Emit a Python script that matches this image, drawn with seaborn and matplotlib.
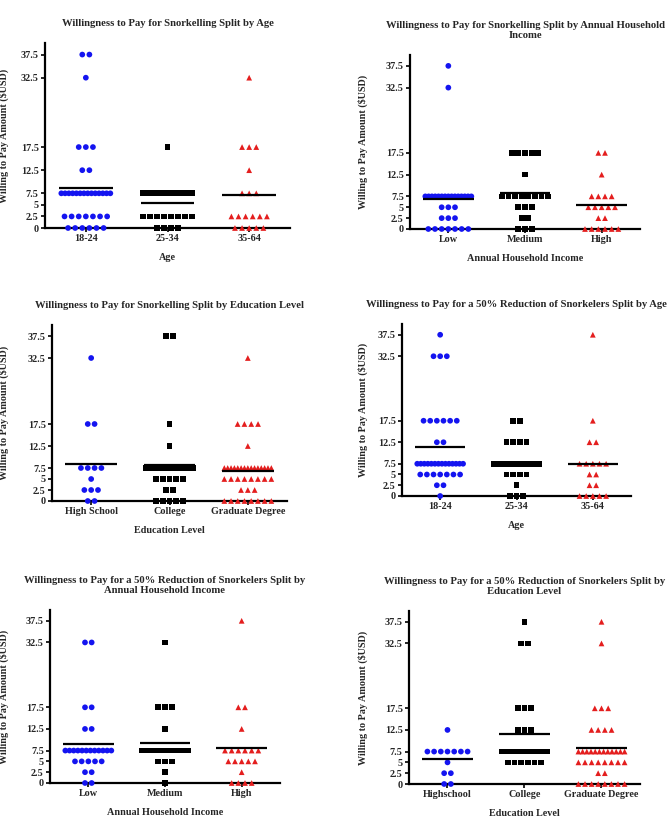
import numpy as np
import pandas as pd
import matplotlib
matplotlib.use("Agg")
import matplotlib.pyplot as plt
import seaborn as sns

# =========================
# Data
# =========================
# amount levels used in the survey, also the y tick values
LEVELS = [0, 2.5, 5, 7.5, 12.5, 17.5, 32.5, 37.5]
Y_TICK_LABELS = ["0", "2.5", "5", "7.5", "12.5", "17.5", "32.5", "37.5"]

AGE_GROUPS = ["18-24", "25-34", "35-64"]
INCOME_GROUPS = ["Low", "Medium", "High"]
EDU_GROUPS = ["High School", "College", "Graduate Degree"]
EDU_GROUPS_B = ["Highschool", "College", "Graduate Degree"]

# respondents at each level of LEVELS, one list per group
snork_age = [[6, 7, 0, 14, 2, 3, 1, 2],
             [4, 8, 0, 17, 0, 1, 0, 0],
             [5, 6, 0, 3, 1, 3, 1, 0]]
snork_income = [[7, 3, 3, 15, 0, 0, 1, 1],
                [3, 2, 3, 8, 1, 5, 0, 0],
                [6, 2, 5, 4, 1, 2, 0, 0]]
snork_edu = [[2, 3, 1, 4, 0, 2, 1, 0],
             [5, 2, 5, 10, 1, 1, 0, 2],
             [8, 3, 8, 15, 1, 4, 1, 0]]
reduc_age = [[1, 2, 7, 14, 2, 6, 3, 1],
             [3, 1, 4, 20, 4, 2, 0, 0],
             [5, 2, 2, 5, 2, 1, 0, 1]]
reduc_income = [[2, 2, 5, 12, 2, 2, 2, 0],
                [1, 1, 3, 12, 1, 3, 1, 0],
                [4, 1, 5, 6, 1, 2, 0, 1]]
reduc_edu = [[2, 2, 1, 7, 1, 0, 0, 0],
             [0, 0, 6, 12, 3, 3, 2, 1],
             [8, 2, 8, 12, 4, 3, 1, 1]]

# group means shown as horizontal bars
snork_age_mean = [8.74, 5.49, 7.15]
snork_income_mean = [6.98, 8.28, 5.44]
snork_edu_mean = [8.47, 8.09, 6.88]
reduc_age_mean = [11.34, 7.6, 7.45]
reduc_income_mean = [9.08, 9.31, 8.16]
reduc_edu_mean = [5.71, 11.65, 8.33]

# =========================
# Style
# =========================
COLORS = ["#1414F0", "#000000", "#E41E1E"]
MARKERS = ["o", "s", "^"]
YLABEL = "Willing to Pay Amount (\\$USD)"

sns.set_style("ticks")
plt.rcParams["font.family"] = ["Liberation Serif", "DejaVu Serif"]
plt.rcParams["font.weight"] = "bold"
plt.rcParams["axes.labelweight"] = "bold"

W, H = 671, 824

# title, x label, groups, counts, means, axes box in pixels (left, top, right, bottom), ylabel x
panels = [
    ("Willingness to Pay for Snorkelling Split by Age", "Age",
     AGE_GROUPS, snork_age, snork_age_mean, (45, 43, 290, 228), 9),
    ("Willingness to Pay for Snorkelling Split by Annual Household\nIncome", "Annual Household Income",
     INCOME_GROUPS, snork_income, snork_income_mean, (410, 55, 640, 229), 368),
    ("Willingness to Pay for Snorkelling Split by Education Level", "Education Level",
     EDU_GROUPS, snork_edu, snork_edu_mean, (52, 325, 287, 501), 9),
    ("Willingness to Pay for a 50% Reduction of Snorkelers Split by Age", "Age",
     AGE_GROUPS, reduc_age, reduc_age_mean, (402, 324, 631, 496), 368),
    ("Willingness to Pay for a 50% Reduction of Snorkelers Split by\nAnnual Household Income", "Annual Household Income",
     INCOME_GROUPS, reduc_income, reduc_income_mean, (50, 610, 280, 783), 9),
    ("Willingness to Pay for a 50% Reduction of Snorkelers Split by\nEducation Level", "Education Level",
     EDU_GROUPS_B, reduc_edu, reduc_edu_mean, (409, 611, 640, 784), 368),
]


def row_offsets(n, step=0.087, span=0.6):
    # points with equal value are laid side by side, squeezed when the row gets too wide
    if n <= 1:
        return np.zeros(n)
    d = min(step, span / (n - 1))
    return (np.arange(n) - (n - 1) / 2) * d


fig = plt.figure(figsize=(W / 100, H / 100), dpi=100)

for title, xlabel, groups, counts, means, box, ylab_x in panels:
    l, t, r, b = box
    ax = fig.add_axes([l / W, 1 - b / H, (r - l) / W, (b - t) / H])

    rows = []
    for gi, (g, cnts) in enumerate(zip(groups, counts)):
        for lvl, n in zip(LEVELS, cnts):
            for off in row_offsets(n):
                rows.append({"group": g, "pos": gi + off, "amount": lvl})
    df = pd.DataFrame(rows)

    sns.scatterplot(data=df, x="pos", y="amount", hue="group", style="group",
                    palette=dict(zip(groups, COLORS)), markers=dict(zip(groups, MARKERS)),
                    s=17, edgecolor="none", linewidth=0, legend=False,
                    clip_on=False, zorder=3, ax=ax)

    for gi, m in enumerate(means):
        ax.hlines(m, gi - 0.33, gi + 0.33, color="black", lw=1.6, zorder=4)

    ax.set_xlim(-0.5, 2.5)
    ax.set_ylim(0, 40)
    ax.set_xticks(range(3))
    ax.set_xticklabels(groups)
    ax.set_yticks(LEVELS)
    ax.set_yticklabels(Y_TICK_LABELS)
    ax.tick_params(axis="both", labelsize=7.3, length=3, width=1.2, pad=1.5, color="black")
    for lab in ax.get_xticklabels() + ax.get_yticklabels():
        lab.set_fontweight("bold")

    sns.despine(ax=ax)
    for side in ["left", "bottom"]:
        ax.spines[side].set_linewidth(1.6)
        ax.spines[side].set_color("black")

    ax.set_title(title, fontsize=7.7, fontweight="bold", pad=12, linespacing=1.2)
    ax.set_xlabel(xlabel, fontsize=7.3, fontweight="bold", labelpad=7)
    ax.set_ylabel(YLABEL, fontsize=7.3, fontweight="bold")
    ax.yaxis.set_label_coords((ylab_x - l) / (r - l), 0.5)

fig.savefig("out.png", dpi=100)
